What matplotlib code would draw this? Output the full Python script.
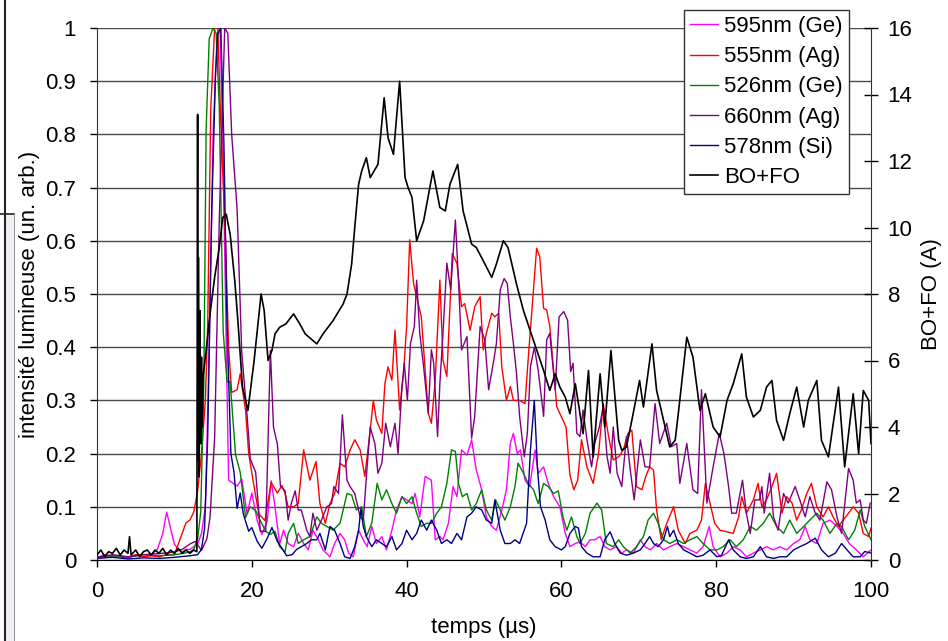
import matplotlib
matplotlib.use("Agg")
import matplotlib.pyplot as plt
from matplotlib.lines import Line2D
from matplotlib.patches import Rectangle

plt.rcParams['font.family'] = ['Liberation Sans', 'DejaVu Sans']
plt.rcParams['font.size'] = 16

# (time in us, intensity)
s595 = [(0, 0.005), (1, 0.01), (2, 0.005), (3, 0.008), (4, 0.004), (5, 0.01), (6, 0.006), (7, 0.01),
        (7.8, 0.02), (8.5, 0.05), (9.0, 0.09), (9.5, 0.06), (10.0, 0.03), (10.5, 0.02), (11.0, 0.015),
        (11.5, 0.02), (12.0, 0.02), (12.5, 0.025), (13.0, 0.03), (13.5, 0.05), (14.0, 0.1), (14.5, 0.4),
        (15.0, 0.8), (15.5, 0.98), (15.9, 1.0), (16.3, 0.75), (16.7, 0.4), (17.0, 0.15), (17.4, 0.146),
        (18.1, 0.139), (18.7, 0.152), (19.4, 0.087), (20.0, 0.126), (20.7, 0.074), (21.3, 0.048),
        (22.0, 0.074), (22.5, 0.149), (23.0, 0.1), (23.6, 0.03), (24.1, 0.056), (24.7, 0.031),
        (25.4, 0.025), (26.0, 0.05), (26.7, 0.031), (27.3, 0.019), (27.9, 0.056), (28.6, 0.038),
        (29.2, 0.019), (30.1, 0.006), (30.7, 0.031), (31.4, 0.05), (32.0, 0.038), (32.5, 0.013),
        (33.1, 0.006), (33.8, 0.056), (34.4, 0.038), (34.9, 0.025), (35.5, 0.063), (36.1, 0.031),
        (36.8, 0.044), (37.4, 0.019), (38.1, 0.056), (38.7, 0.094), (39.4, 0.119), (40.0, 0.113),
        (40.7, 0.106), (41.1, 0.125), (41.7, 0.081), (42.4, 0.157), (43.2, 0.15), (43.7, 0.038),
        (44.3, 0.044), (44.7, 0.038), (45.4, 0.069), (46.0, 0.138), (46.5, 0.119), (47.1, 0.207),
        (47.8, 0.197), (48.4, 0.226), (49.0, 0.169), (49.7, 0.132), (50.3, 0.081), (51.0, 0.063),
        (51.6, 0.056), (52.3, 0.094), (52.9, 0.132), (53.4, 0.219), (53.8, 0.238), (54.3, 0.2),
        (54.7, 0.207), (55.3, 0.15), (55.9, 0.138), (56.6, 0.207), (57.0, 0.163), (57.7, 0.175),
        (58.3, 0.144), (59.0, 0.119), (59.8, 0.1), (60.5, 0.05), (61.1, 0.025), (61.8, 0.031),
        (62.4, 0.034), (63.1, 0.025), (63.7, 0.038), (64.3, 0.038), (65.0, 0.044), (65.6, 0.025),
        (66.3, 0.019), (67.1, 0.025), (67.8, 0.013), (68.4, 0.019), (69.3, 0.013), (70.2, 0.038),
        (70.8, 0.025), (71.5, 0.019), (72.3, 0.031), (73.2, 0.019), (74.0, 0.025), (74.9, 0.031),
        (75.8, 0.025), (76.6, 0.019), (77.5, 0.013), (78.3, 0.025), (79.1, 0.063), (79.6, 0.025),
        (80.5, 0.006), (81.4, 0.013), (82.2, 0.025), (83.1, 0.019), (83.9, 0.006), (84.8, 0.013),
        (85.7, 0.019), (86.5, 0.025), (87.4, 0.019), (88.2, 0.025), (89.1, 0.019), (90.0, 0.031),
        (90.8, 0.038), (91.5, 0.063), (92.1, 0.038), (93.0, 0.031), (93.8, 0.069), (94.7, 0.075),
        (95.6, 0.063), (96.4, 0.05), (97.2, 0.031), (98.1, 0.019), (99.0, 0.006), (100, 0.019)]

s555 = [(0, 0.005), (2, 0.008), (4, 0.004), (5, 0.01), (6, 0.006), (7, 0.008), (8, 0.006), (9, 0.01),
        (10, 0.01), (10.5, 0.03), (11, 0.05), (11.5, 0.07), (12.0, 0.075), (12.5, 0.09), (13.0, 0.13),
        (13.5, 0.2), (14.0, 0.3), (14.3, 0.44), (14.7, 0.85), (15.2, 1.0), (15.6, 1.0), (16.0, 0.82),
        (16.6, 0.6), (17.0, 0.4), (17.4, 0.315), (18.1, 0.32), (18.5, 0.35), (19.2, 0.28), (19.6, 0.2),
        (20.2, 0.146), (20.9, 0.087), (21.7, 0.074), (22.5, 0.146), (23.3, 0.126), (23.9, 0.14),
        (24.3, 0.125), (24.7, 0.1), (25.4, 0.1), (26.0, 0.106), (26.7, 0.207), (27.5, 0.15),
        (28.3, 0.185), (28.8, 0.106), (29.5, 0.069), (30.1, 0.106), (30.7, 0.125), (31.4, 0.182),
        (32.0, 0.175), (32.7, 0.207), (33.3, 0.226), (34.0, 0.207), (34.6, 0.157), (35.3, 0.244),
        (35.7, 0.3), (36.1, 0.263), (36.8, 0.238), (37.2, 0.332), (37.6, 0.363), (38.1, 0.338),
        (38.5, 0.432), (39.1, 0.282), (39.6, 0.35), (40.0, 0.439), (40.4, 0.602), (40.9, 0.52),
        (41.3, 0.495), (41.9, 0.457), (42.4, 0.357), (42.8, 0.276), (43.2, 0.257), (43.7, 0.338),
        (44.3, 0.526), (44.7, 0.376), (45.2, 0.345), (45.9, 0.576), (46.5, 0.558), (47.1, 0.476),
        (47.5, 0.482), (48.2, 0.432), (48.8, 0.476), (49.5, 0.495), (49.9, 0.395), (50.3, 0.426),
        (51.0, 0.464), (51.4, 0.457), (51.9, 0.464), (52.3, 0.363), (52.9, 0.3), (53.4, 0.326),
        (53.8, 0.3), (54.6, 0.3), (55.3, 0.294), (55.7, 0.376), (56.4, 0.508), (56.8, 0.586),
        (57.2, 0.57), (57.7, 0.473), (58.1, 0.47), (58.5, 0.439), (59.4, 0.288), (60.0, 0.269),
        (60.6, 0.25), (61.1, 0.16), (61.6, 0.132), (62.1, 0.15), (62.6, 0.226), (63.3, 0.175),
        (64.1, 0.144), (64.8, 0.2), (65.4, 0.294), (66.1, 0.232), (66.7, 0.188), (67.4, 0.194),
        (68.0, 0.207), (68.6, 0.238), (69.1, 0.244), (69.7, 0.138), (70.4, 0.132), (70.9, 0.157),
        (71.4, 0.175), (71.9, 0.169), (72.3, 0.094), (72.9, 0.038), (73.6, 0.069), (74.5, 0.1),
        (75.1, 0.056), (76.0, 0.031), (76.6, 0.05), (77.5, 0.056), (78.1, 0.075), (78.6, 0.144),
        (79.2, 0.107), (79.8, 0.069), (80.5, 0.056), (81.4, 0.053), (82.2, 0.05), (82.9, 0.081),
        (83.3, 0.119), (83.9, 0.088), (84.8, 0.113), (85.4, 0.144), (85.9, 0.1), (86.5, 0.113),
        (87.2, 0.138), (87.8, 0.163), (88.5, 0.088), (89.1, 0.119), (89.8, 0.107), (90.4, 0.075),
        (91.0, 0.094), (91.7, 0.125), (92.3, 0.144), (93.0, 0.1), (93.8, 0.081), (94.5, 0.1),
        (95.1, 0.081), (95.8, 0.063), (96.4, 0.075), (97.1, 0.088), (97.7, 0.1), (98.4, 0.088),
        (99.0, 0.05), (99.7, 0.044), (100, 0.06)]

s526 = [(0, 0.005), (2, 0.008), (4, 0.005), (6, 0.01), (8, 0.008), (10, 0.01), (11, 0.012), (12, 0.015),
        (12.5, 0.02), (13.0, 0.04), (13.4, 0.09), (13.8, 0.33), (14.1, 0.81), (14.5, 0.98), (15.0, 1.0),
        (15.4, 0.99), (15.8, 0.85), (16.3, 0.43), (16.8, 0.335), (17.2, 0.335), (17.9, 0.198),
        (18.5, 0.165), (19.2, 0.08), (19.8, 0.1), (20.5, 0.093), (21.1, 0.074), (21.8, 0.054),
        (22.4, 0.048), (23.0, 0.054), (23.6, 0.025), (24.3, 0.015), (24.7, 0.05), (25.4, 0.069),
        (26.0, 0.031), (26.7, 0.038), (27.5, 0.044), (28.4, 0.081), (29.0, 0.069), (29.7, 0.063),
        (30.5, 0.056), (31.4, 0.069), (32.3, 0.125), (32.9, 0.122), (33.5, 0.094), (34.2, 0.1),
        (34.8, 0.044), (35.5, 0.069), (36.2, 0.144), (36.8, 0.113), (37.4, 0.132), (38.1, 0.106),
        (38.7, 0.088), (39.4, 0.119), (40.0, 0.106), (40.7, 0.119), (41.3, 0.088), (41.9, 0.063),
        (42.6, 0.069), (43.2, 0.069), (43.9, 0.088), (44.5, 0.1), (45.2, 0.144), (45.8, 0.207),
        (46.3, 0.204), (46.7, 0.144), (47.2, 0.119), (47.8, 0.125), (48.4, 0.094), (49.0, 0.106),
        (49.7, 0.132), (50.3, 0.094), (51.0, 0.075), (51.5, 0.113), (52.1, 0.094), (52.7, 0.075),
        (53.4, 0.1), (54.0, 0.138), (54.4, 0.182), (55.1, 0.163), (55.7, 0.144), (56.4, 0.132),
        (57.0, 0.106), (57.7, 0.144), (58.3, 0.138), (59.0, 0.125), (59.6, 0.13), (60.2, 0.081),
        (60.7, 0.056), (61.3, 0.081), (62.0, 0.044), (62.4, 0.031), (63.1, 0.05), (63.7, 0.088),
        (64.6, 0.107), (65.2, 0.094), (65.8, 0.031), (66.7, 0.025), (67.4, 0.038), (68.0, 0.025),
        (68.9, 0.013), (69.7, 0.025), (70.6, 0.044), (71.2, 0.075), (71.9, 0.088), (72.5, 0.069),
        (73.2, 0.038), (74.0, 0.031), (74.9, 0.038), (75.8, 0.031), (76.6, 0.038), (77.5, 0.044),
        (78.3, 0.031), (79.2, 0.019), (80.1, 0.019), (80.9, 0.025), (81.8, 0.038), (82.6, 0.025),
        (83.5, 0.038), (84.4, 0.063), (85.2, 0.056), (86.1, 0.069), (86.9, 0.088), (87.8, 0.063),
        (88.7, 0.05), (89.5, 0.075), (90.4, 0.05), (91.3, 0.063), (92.1, 0.075), (93.0, 0.088),
        (93.8, 0.075), (94.7, 0.05), (95.6, 0.069), (96.2, 0.063), (97.1, 0.038), (97.9, 0.056),
        (98.6, 0.094), (99.2, 0.063), (100, 0.038)]

s660 = [(0, 0.005), (2, 0.01), (4, 0.006), (6, 0.01), (8, 0.012), (10, 0.015), (11, 0.02), (12, 0.03),
        (12.7, 0.035), (13.5, 0.018), (14.2, 0.04), (14.6, 0.08), (15.2, 0.23), (15.8, 0.64),
        (16.5, 1.0), (16.9, 0.99), (17.4, 0.8), (18.1, 0.66), (18.7, 0.39), (19.4, 0.27), (19.8, 0.19),
        (20.5, 0.165), (21.1, 0.054), (21.8, 0.054), (22.4, 0.394), (22.8, 0.25), (23.3, 0.218),
        (23.7, 0.139), (24.3, 0.13), (24.7, 0.075), (25.1, 0.106), (25.6, 0.13), (26.0, 0.094),
        (26.4, 0.094), (27.1, 0.056), (27.5, 0.044), (27.9, 0.088), (28.4, 0.056), (29.0, 0.075),
        (29.7, 0.1), (30.3, 0.106), (30.6, 0.138), (31.2, 0.125), (31.7, 0.273), (32.3, 0.15),
        (32.7, 0.138), (33.3, 0.125), (34.0, 0.081), (34.4, 0.075), (34.9, 0.175), (35.3, 0.25),
        (35.9, 0.219), (36.3, 0.163), (36.8, 0.182), (37.3, 0.257), (37.9, 0.213), (38.5, 0.257),
        (38.9, 0.2), (39.4, 0.326), (39.7, 0.37), (40.1, 0.3), (40.5, 0.407), (41.0, 0.439),
        (41.3, 0.526), (41.7, 0.426), (42.2, 0.363), (42.8, 0.276), (43.2, 0.395), (43.5, 0.37),
        (44.0, 0.232), (44.3, 0.332), (44.7, 0.426), (45.2, 0.558), (45.7, 0.508), (46.3, 0.639),
        (46.7, 0.526), (47.1, 0.395), (47.8, 0.42), (48.4, 0.229), (48.8, 0.27), (49.5, 0.439),
        (50.1, 0.414), (50.6, 0.32), (51.2, 0.37), (51.6, 0.407), (52.1, 0.508), (52.6, 0.529),
        (53.0, 0.52), (53.4, 0.457), (53.8, 0.407), (54.2, 0.351), (54.6, 0.27), (55.2, 0.194),
        (55.6, 0.238), (56.0, 0.363), (56.5, 0.4), (57.0, 0.357), (57.7, 0.27), (58.1, 0.414),
        (58.5, 0.426), (59.2, 0.32), (59.7, 0.457), (60.3, 0.467), (60.8, 0.451), (61.2, 0.354),
        (61.5, 0.37), (62.0, 0.238), (62.4, 0.232), (62.8, 0.282), (63.3, 0.226), (63.9, 0.175),
        (64.3, 0.219), (64.9, 0.25), (65.4, 0.288), (65.9, 0.194), (66.3, 0.163), (66.7, 0.25),
        (67.2, 0.163), (67.8, 0.138), (68.4, 0.232), (68.9, 0.169), (69.4, 0.113), (70.2, 0.226),
        (70.8, 0.175), (71.4, 0.175), (72.1, 0.294), (72.7, 0.219), (73.6, 0.257), (74.2, 0.213),
        (74.9, 0.219), (75.3, 0.144), (76.2, 0.219), (77.0, 0.132), (77.6, 0.125), (78.1, 0.32),
        (78.8, 0.107), (79.6, 0.175), (80.4, 0.238), (81.0, 0.2), (81.6, 0.138), (82.0, 0.088),
        (82.6, 0.088), (83.4, 0.15), (83.9, 0.088), (84.4, 0.05), (85.0, 0.113), (85.6, 0.113),
        (85.9, 0.138), (86.2, 0.088), (86.9, 0.163), (87.4, 0.081), (88.0, 0.056), (88.7, 0.125),
        (89.3, 0.107), (90.2, 0.138), (90.8, 0.113), (91.5, 0.081), (92.1, 0.119), (92.8, 0.088),
        (93.4, 0.075), (94.3, 0.147), (94.9, 0.132), (95.6, 0.081), (96.2, 0.05), (97.1, 0.172),
        (97.7, 0.15), (98.1, 0.107), (98.6, 0.113), (99.0, 0.075), (99.4, 0.069), (99.9, 0.107)]

s578 = [(0, 0.003), (2, 0.005), (4, 0.002), (6, 0.004), (8, 0.003), (10, 0.005), (12, 0.008), (13.0, 0.01),
        (13.5, 0.02), (13.9, 0.06), (14.3, 0.23), (14.8, 0.64), (15.3, 0.91), (15.6, 0.99), (16.0, 1.0),
        (16.4, 0.78), (16.8, 0.44), (17.3, 0.2), (17.7, 0.165), (18.1, 0.097), (18.5, 0.126),
        (18.9, 0.087), (19.6, 0.054), (20.0, 0.061), (20.7, 0.035), (21.3, 0.022), (22.0, 0.041),
        (22.6, 0.061), (23.3, 0.035), (23.9, 0.022), (24.5, 0.008), (25.2, 0.01), (25.8, 0.02),
        (26.4, 0.025), (27.1, 0.031), (27.7, 0.038), (28.4, 0.038), (28.8, 0.05), (29.5, 0.019),
        (30.1, 0.063), (30.7, 0.056), (31.4, 0.031), (32.0, 0.006), (32.7, 0.003), (33.3, 0.025),
        (33.8, 0.056), (34.1, 0.097), (34.4, 0.063), (34.8, 0.044), (35.5, 0.025), (36.1, 0.038),
        (36.8, 0.031), (37.4, 0.025), (38.1, 0.044), (38.7, 0.019), (39.4, 0.031), (40.0, 0.056),
        (40.7, 0.038), (41.3, 0.05), (41.9, 0.075), (42.6, 0.056), (43.2, 0.075), (43.9, 0.056),
        (44.5, 0.031), (45.2, 0.038), (45.8, 0.031), (46.5, 0.05), (47.1, 0.038), (47.8, 0.081),
        (48.4, 0.088), (49.0, 0.1), (49.7, 0.094), (50.3, 0.075), (51.0, 0.069), (51.4, 0.113),
        (52.1, 0.056), (52.7, 0.031), (53.4, 0.031), (54.0, 0.038), (54.6, 0.031), (55.5, 0.069),
        (56.0, 0.207), (56.5, 0.3), (56.9, 0.175), (57.3, 0.1), (57.9, 0.075), (58.5, 0.038),
        (59.2, 0.025), (60.0, 0.019), (60.5, 0.025), (61.1, 0.05), (61.8, 0.063), (62.2, 0.06),
        (62.6, 0.025), (63.3, 0.013), (64.1, 0.006), (65.0, 0.006), (65.6, 0.038), (66.3, 0.053),
        (66.9, 0.031), (67.6, 0.013), (68.4, 0.009), (69.3, 0.013), (70.2, 0.019), (70.8, 0.031),
        (71.4, 0.044), (71.9, 0.031), (72.5, 0.025), (73.2, 0.038), (73.7, 0.063), (74.0, 0.044),
        (74.5, 0.056), (75.1, 0.031), (75.8, 0.019), (76.6, 0.013), (77.5, 0.006), (78.3, 0.009),
        (79.2, 0.019), (80.1, 0.006), (80.7, 0.009), (81.6, 0.038), (82.2, 0.019), (83.1, 0.006),
        (83.9, 0.003), (84.8, 0.006), (85.7, 0.025), (86.5, 0.006), (87.4, 0.003), (88.2, 0.006),
        (89.1, 0.006), (90.0, 0.019), (90.8, 0.025), (91.7, 0.031), (92.8, 0.041), (93.6, 0.019),
        (94.5, 0.006), (95.4, 0.013), (96.2, 0.031), (96.9, 0.019), (97.7, 0.006), (98.6, 0.006),
        (99.2, 0.016), (100, 0.013)]

# BO+FO current in A (right axis)
bofo = [(0, 0.15), (0.5, 0.3), (1, 0.1), (1.5, 0.25), (2, 0.2), (2.5, 0.35), (3, 0.15), (3.5, 0.3),
        (4.0, 0.2), (4.2, 0.7), (4.4, 0.15), (5, 0.3), (5.5, 0.1), (6, 0.25), (6.5, 0.3), (7, 0.15),
        (7.5, 0.3), (8, 0.2), (8.5, 0.35), (9, 0.15), (9.5, 0.3), (10, 0.2), (10.5, 0.35), (11, 0.2),
        (11.5, 0.3), (12, 0.2), (12.5, 0.3), (12.9, 0.25), (13.0, 13.4), (13.05, 3.0), (13.1, 9.1),
        (13.2, 2.5), (13.3, 7.5), (13.4, 3.5), (13.5, 6.1), (13.6, 4.0), (13.7, 5.5), (13.9, 5.9),
        (14.2, 6.5), (14.5, 7.2), (15.2, 8.5), (15.8, 9.4), (16.25, 10.3), (16.7, 10.4), (17.2, 9.8),
        (17.8, 8.4), (18.2, 7.2), (18.8, 5.2), (19.5, 4.5), (20.3, 6.0), (21.2, 8.0), (21.6, 7.5),
        (22.1, 6.0), (22.6, 6.3), (23.0, 6.8), (23.6, 7.0), (24.4, 7.1), (25.4, 7.4), (26.2, 7.1),
        (26.9, 6.8), (27.9, 6.6), (28.4, 6.5), (29.2, 6.8), (30.5, 7.2), (31.8, 7.7), (32.3, 8.0),
        (32.9, 8.9), (33.3, 10.0), (33.8, 11.3), (34.2, 11.7), (34.8, 12.1), (35.3, 11.5),
        (35.8, 11.7), (36.3, 11.9), (37.1, 13.9), (37.6, 12.7), (38.3, 12.2), (39.1, 14.4),
        (39.8, 11.5), (40.2, 11.2), (40.7, 10.9), (41.3, 9.6), (42.2, 10.2), (43.4, 11.7),
        (44.3, 10.6), (45.0, 10.5), (45.6, 11.3), (46.6, 11.9), (47.3, 10.5), (48.4, 9.5),
        (49.0, 9.4), (49.9, 9.0), (51.0, 8.5), (51.6, 8.9), (52.5, 9.6), (53.1, 9.4), (54.2, 8.3),
        (55.1, 7.5), (56.4, 6.6), (57.7, 5.7), (58.5, 5.1), (59.2, 5.6), (59.8, 5.2), (60.5, 4.9),
        (61.1, 4.4), (61.8, 5.3), (62.2, 4.7), (62.8, 3.8), (63.5, 5.7), (64.1, 3.1), (65.0, 5.6),
        (65.6, 4.0), (66.4, 6.3), (67.4, 3.6), (67.8, 3.3), (68.4, 3.4), (69.1, 4.2), (70.1, 5.4),
        (70.6, 4.6), (71.7, 6.5), (72.3, 5.1), (73.2, 4.2), (74.0, 3.4), (74.7, 3.6), (75.1, 4.4),
        (76.2, 6.7), (77.0, 6.1), (77.9, 4.5), (78.6, 5.0), (79.6, 4.0), (80.5, 3.7), (81.4, 4.8),
        (82.2, 5.3), (83.3, 6.2), (83.9, 4.9), (84.8, 4.3), (85.7, 4.5), (86.5, 5.2), (87.2, 5.4),
        (87.8, 4.2), (88.7, 3.6), (89.5, 4.4), (90.4, 5.2), (91.3, 4.0), (91.9, 4.8), (93.0, 5.4),
        (93.6, 3.6), (94.5, 3.1), (95.8, 5.2), (96.6, 2.8), (97.7, 5.0), (98.4, 3.2), (99.0, 5.1),
        (99.7, 4.8), (100, 3.5)]

series = [("595nm (Ge)", s595, "#ff00ff"),
          ("555nm (Ag)", s555, "#ff0000"),
          ("526nm (Ge)", s526, "#008000"),
          ("660nm (Ag)", s660, "#800080"),
          ("578nm (Si)", s578, "#000080")]

W, H = 948, 641
fig = plt.figure(figsize=(W / 100, H / 100), dpi=100)
ax = fig.add_axes([97 / W, 1 - 560 / H, 774 / W, 532 / H])

handles = []
for name, pts, col in series:
    t, v = zip(*pts)
    h, = ax.plot(t, v, color=col, lw=1.0, label=name)
    handles.append(h)

ax.set_xlim(0, 100)
ax.set_ylim(0, 1)
ax.set_xticks(range(0, 101, 20))
ax.set_yticks([i / 10 for i in range(11)])
ax.set_yticklabels(["0"] + ["%.1f" % (i / 10) for i in range(1, 10)] + ["1"])
ax.yaxis.grid(True, color="#4a4a4a", lw=1.0)
ax.set_axisbelow(True)
ax.spines["top"].set_visible(False)
ax.spines["right"].set_visible(False)
ax.spines["left"].set_color("#333333")
ax.tick_params(direction="out", length=5, width=1, labelsize=16)
ax.tick_params(axis="x", pad=10)
ax.tick_params(axis="y", pad=10)
ax.set_xlabel("temps (µs)", fontsize=16, labelpad=11)
ax.set_ylabel("intensité lumineuse (un. arb.)", fontsize=16, labelpad=4)

ax2 = ax.twinx()
tb, ab = zip(*bofo)
hb, = ax2.plot(tb, ab, color="black", lw=1.2, label="BO+FO")
handles.append(hb)
ax2.set_ylim(0, 16)
ax2.set_yticks(range(0, 17, 2))
ax2.spines["top"].set_visible(False)
ax2.spines["left"].set_visible(False)
ax2.spines["bottom"].set_visible(False)
ax2.spines["right"].set_color("#333333")
ax2.tick_params(axis="y", direction="inout", length=10, width=1, labelsize=16, pad=7)
ax2.set_ylabel("BO+FO (A)", fontsize=16, labelpad=6)

leg = fig.legend(handles=handles, loc="upper right",
                 bbox_to_anchor=(849 / W, 1 - 10 / H), bbox_transform=fig.transFigure,
                 fontsize=16, handlelength=1.25, handletextpad=0.27, labelspacing=0.41,
                 borderpad=0.28, borderaxespad=0, fancybox=False, framealpha=1)
leg.get_frame().set_edgecolor("#333333")
leg.get_frame().set_linewidth(1.0)

# frame remnant at the far left edge of the picture
fig.add_artist(Rectangle((6 / W, 0), 8 / W, 1 - 214 / H, transform=fig.transFigure,
                         facecolor="#f1eef5", edgecolor="none"))
fig.add_artist(Line2D([5 / W, 5 / W], [0, 1], transform=fig.transFigure, color="#222222", lw=1.5))
fig.add_artist(Line2D([0, 14 / W], [1 - 214 / H, 1 - 214 / H], transform=fig.transFigure,
                      color="#222222", lw=1.2))
fig.add_artist(Line2D([14 / W, 14 / W], [0, 1 - 214 / H], transform=fig.transFigure,
                      color="#999999", lw=0.8))

fig.savefig("out.png", dpi=100)
